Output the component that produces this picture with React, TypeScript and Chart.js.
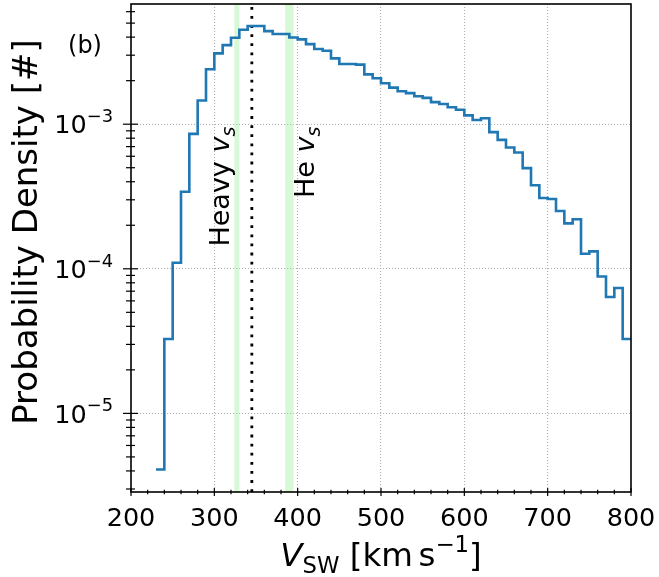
import React, { useEffect, useRef } from "react";
import { Chart, registerables } from "chart.js";

Chart.register(...registerables);

// ---------- data ----------
const BIN_LEFT_EDGES = [
  230, 240, 250, 260, 270, 280, 290, 300, 310, 320,
  330, 340, 350, 360, 370, 380, 390, 400, 410, 420,
  430, 440, 450, 460, 470, 480, 490, 500, 510, 520,
  530, 540, 550, 560, 570, 580, 590, 600, 610, 620,
  630, 640, 650, 660, 670, 680, 690, 700, 710, 720,
  730, 740, 750, 760, 770, 780, 790,
];
const LAST_BIN_RIGHT_EDGE = 800;
const DENSITY = [
  4.09e-6, 3.27e-5, 1.10e-4, 3.41e-4, 8.57e-4, 1.46e-3, 2.40e-3, 3.09e-3, 3.52e-3, 3.96e-3,
  4.50e-3, 4.78e-3, 4.78e-3, 4.40e-3, 4.20e-3, 4.20e-3, 3.98e-3, 3.86e-3, 3.58e-3, 3.31e-3,
  3.22e-3, 2.85e-3, 2.61e-3, 2.61e-3, 2.58e-3, 2.21e-3, 2.08e-3, 1.92e-3, 1.79e-3, 1.69e-3,
  1.64e-3, 1.56e-3, 1.52e-3, 1.42e-3, 1.38e-3, 1.31e-3, 1.26e-3, 1.15e-3, 1.07e-3, 1.10e-3,
  8.81e-4, 7.79e-4, 6.90e-4, 6.37e-4, 4.97e-4, 3.78e-4, 3.09e-4, 3.04e-4, 2.51e-4, 2.06e-4,
  2.20e-4, 1.27e-4, 1.32e-4, 8.85e-5, 6.38e-5, 7.36e-5, 3.27e-5,
];

const X_TICKS = [200, 300, 400, 500, 600, 700, 800];
const X_MINOR_STEP = 20;
const Y_TICKS = [1e-5, 1e-4, 1e-3];
const Y_TICK_EXPONENTS = ["\u22125", "\u22124", "\u22123"];
const X_RANGE = [200, 800];
const Y_RANGE = [2.86e-6, 6.78e-3];

const HEAVY_BAND = [324, 330];
const HE_BAND = [385, 395];
const PEAK_VLINE = 345;
const ANNOTATIONS = [
  { x: 318, label: "Heavy " },
  { x: 420, label: "He " },
];
const ANNOTATION_TOP_Y = 9.6e-4;
const PANEL_LABEL = "(b)";

// ---------- styling ----------
const FONT = '"DejaVu Sans", sans-serif';
const W = 659;
const H = 577;
const AREA = { left: 131, right: 631, top: 4, bottom: 492 };
const TICK_FONT = 25.5;

type Part = { text: string; size: number; italic?: boolean; dy?: number; gap?: number };

function drawRich(ctx: CanvasRenderingContext2D, parts: Part[], x: number, y: number, align: "left" | "center" | "right") {
  const widths = parts.map((p) => {
    ctx.font = `${p.italic ? "italic " : ""}${p.size}px ${FONT}`;
    return ctx.measureText(p.text).width;
  });
  const total = widths.reduce((a, b) => a + b, 0) + parts.reduce((a, p) => a + (p.gap || 0), 0);
  let cx = align === "left" ? x : align === "center" ? x - total / 2 : x - total;
  ctx.textAlign = "left";
  ctx.textBaseline = "alphabetic";
  parts.forEach((p, i) => {
    cx += p.gap || 0;
    ctx.font = `${p.italic ? "italic " : ""}${p.size}px ${FONT}`;
    ctx.fillText(p.text, cx, y + (p.dy || 0));
    cx += widths[i];
  });
}

const decorPlugin = {
  id: "decor",
  beforeDatasetsDraw(chart: any) {
    const { ctx, chartArea: a, scales } = chart;
    const xs = scales.x;
    ctx.save();
    ctx.beginPath();
    ctx.rect(a.left, a.top, a.right - a.left, a.bottom - a.top);
    ctx.clip();
    ctx.fillStyle = "rgba(144,238,144,0.36)";
    for (const [l, r] of [HEAVY_BAND, HE_BAND]) {
      const x1 = xs.getPixelForValue(l);
      const x2 = xs.getPixelForValue(r);
      ctx.fillRect(x1, a.top, x2 - x1, a.bottom - a.top);
    }
    const px = xs.getPixelForValue(PEAK_VLINE);
    ctx.strokeStyle = "#000";
    ctx.lineWidth = 2.8;
    ctx.setLineDash([2.8, 6.3]);
    ctx.beginPath();
    ctx.moveTo(px, a.bottom);
    ctx.lineTo(px, a.top);
    ctx.stroke();
    ctx.restore();
  },
  afterDraw(chart: any) {
    const { ctx, chartArea: a, scales } = chart;
    const xs = scales.x;
    const ys = scales.y;
    ctx.save();
    ctx.fillStyle = "#000";
    ctx.strokeStyle = "#000";

    // frame
    ctx.lineWidth = 1.6;
    ctx.strokeRect(a.left, a.top, a.right - a.left, a.bottom - a.top);

    // x ticks
    ctx.lineWidth = 1.2;
    for (let v = X_RANGE[0]; v <= X_RANGE[1] + 1e-9; v += X_MINOR_STEP) {
      const px = xs.getPixelForValue(v);
      const major = X_TICKS.includes(v);
      const len = major ? 4 : 2.3;
      ctx.beginPath();
      ctx.moveTo(px, a.bottom - len);
      ctx.lineTo(px, a.bottom + len);
      ctx.stroke();
    }
    // y ticks (major + minor)
    for (let e = -6; e <= -2; e++) {
      for (let m = 1; m <= 9; m++) {
        const v = m * Math.pow(10, e);
        if (v < Y_RANGE[0] || v > Y_RANGE[1]) continue;
        const py = ys.getPixelForValue(v);
        const major = m === 1;
        ctx.beginPath();
        ctx.moveTo(a.left - (major ? 8 : 5), py);
        ctx.lineTo(a.left + (major ? 7 : 4), py);
        ctx.stroke();
      }
    }

    // y tick labels
    const TF = TICK_FONT;
    Y_TICKS.forEach((v, i) => {
      const py = ys.getPixelForValue(v);
      drawRich(
        ctx,
        [
          { text: "10", size: TF },
          { text: Y_TICK_EXPONENTS[i], size: TF * 0.7, dy: -TF * 0.44 },
        ],
        a.left - 18,
        py + TF * 0.364,
        "right"
      );
    });

    // y axis label
    ctx.save();
    ctx.translate(37, 232);
    ctx.rotate(-Math.PI / 2);
    drawRich(ctx, [{ text: "Probability Density [#]", size: 34 }], 0, 0, "center");
    ctx.restore();

    // x axis label
    const LF = 32.5;
    drawRich(
      ctx,
      [
        { text: "V", size: LF, italic: true },
        { text: "SW", size: LF * 0.7, dy: LF * 0.2 },
        { text: " [km", size: LF },
        { text: "s", size: LF, gap: LF * 0.17 },
        { text: "\u22121", size: LF * 0.7, dy: -LF * 0.42 },
        { text: "]", size: LF },
      ],
      (a.left + a.right) / 2,
      566,
      "center"
    );

    // annotations
    const AF = 27;
    const topY = ys.getPixelForValue(ANNOTATION_TOP_Y);
    ANNOTATIONS.forEach((an) => {
      const bx = xs.getPixelForValue(an.x);
      ctx.save();
      ctx.translate(bx, topY);
      ctx.rotate(-Math.PI / 2);
      drawRich(
        ctx,
        [
          { text: an.label, size: AF },
          { text: "v", size: AF, italic: true },
          { text: "s", size: AF * 0.7, italic: true, dy: AF * 0.2 },
        ],
        0,
        0,
        "right"
      );
      ctx.restore();
    });

    // panel label
    ctx.font = `24px ${FONT}`;
    ctx.textAlign = "center";
    ctx.textBaseline = "middle";
    ctx.fillText(PANEL_LABEL, 85, 47);

    ctx.restore();
  },
};

export default function App() {
  const ref = useRef<HTMLCanvasElement | null>(null);

  useEffect(() => {
    if (!ref.current) return;
    const points = BIN_LEFT_EDGES.map((x, i) => ({ x, y: DENSITY[i] }));
    points.push({ x: LAST_BIN_RIGHT_EDGE, y: DENSITY[DENSITY.length - 1] });

    const chart = new Chart(ref.current, {
      type: "line",
      data: {
        datasets: [
          {
            data: points,
            stepped: "before",
            borderColor: "#1f77b4",
            borderWidth: 2.6,
            pointRadius: 0,
            fill: false,
            tension: 0,
          },
        ],
      },
      options: {
        animation: false,
        responsive: false,
        devicePixelRatio: 1,
        events: [],
        layout: { padding: { left: 0, top: AREA.top, right: W - AREA.right, bottom: 0 } },
        plugins: { legend: { display: false }, tooltip: { enabled: false }, title: { display: false } },
        scales: {
          x: {
            type: "linear",
            min: X_RANGE[0],
            max: X_RANGE[1],
            afterBuildTicks: (s: any) => {
              s.ticks = X_TICKS.map((v) => ({ value: v }));
            },
            afterFit: (s: any) => {
              s.height = H - AREA.bottom;
              s.paddingLeft = 0;
              s.paddingRight = 0;
              s.paddingTop = 0;
              s.paddingBottom = 0;
            },
            ticks: {
              autoSkip: false,
              maxRotation: 0,
              color: "#000",
              padding: 12,
              font: { family: FONT, size: TICK_FONT },
              callback: (v: any) => String(v),
            },
            grid: {
              drawTicks: false,
              lineWidth: 1.1,
              color: (c: any) =>
                c.tick && (c.tick.value === X_RANGE[0] || c.tick.value === X_RANGE[1])
                  ? "rgba(0,0,0,0)"
                  : "#b0b0b0",
            },
            border: { display: false, dash: [1.1, 1.9] },
          },
          y: {
            type: "logarithmic",
            min: Y_RANGE[0],
            max: Y_RANGE[1],
            afterBuildTicks: (s: any) => {
              s.ticks = Y_TICKS.map((v) => ({ value: v }));
            },
            afterFit: (s: any) => {
              s.width = AREA.left;
              s.paddingTop = 0;
              s.paddingBottom = 0;
            },
            ticks: { display: false },
            grid: { drawTicks: false, lineWidth: 1.1, color: "#b0b0b0" },
            border: { display: false, dash: [1.1, 1.9] },
          },
        },
      },
      plugins: [decorPlugin],
    } as any);
    return () => chart.destroy();
  }, []);

  return (
    <div style={{ position: "absolute", left: 0, top: 0, width: W, height: H, background: "#fff" }}>
      <canvas ref={ref} width={W} height={H} style={{ width: W, height: H, display: "block" }} />
    </div>
  );
}
